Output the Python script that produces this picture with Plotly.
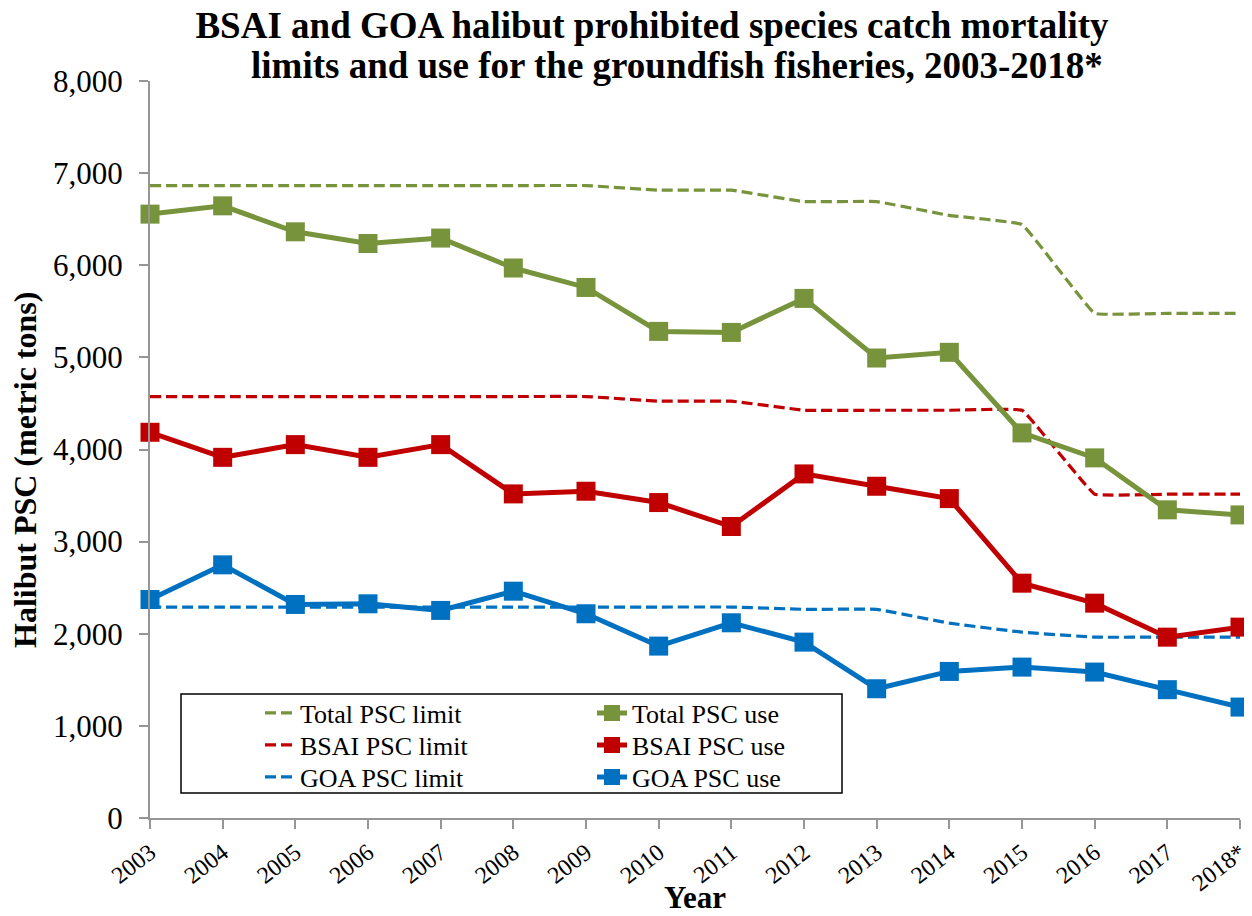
import plotly.graph_objects as go

years = ["2003", "2004", "2005", "2006", "2007", "2008", "2009", "2010",
         "2011", "2012", "2013", "2014", "2015", "2016", "2017", "2018*"]

total_limit = [6865, 6865, 6865, 6865, 6865, 6865, 6865, 6815, 6815, 6691, 6691, 6541, 6443, 5478, 5478, 5478]
bsai_limit = [4575, 4575, 4575, 4575, 4575, 4575, 4575, 4525, 4525, 4426, 4426, 4426, 4426, 3515, 3515, 3515]
goa_limit = [2290, 2290, 2290, 2290, 2290, 2290, 2290, 2290, 2290, 2265, 2265, 2115, 2017, 1963, 1963, 1963]

total_use = [6555, 6645, 6363, 6236, 6295, 5970, 5759, 5282, 5271, 5640, 4993, 5055, 4180, 3909, 3345, 3290]
bsai_use = [4187, 3915, 4053, 3915, 4053, 3518, 3547, 3424, 3164, 3735, 3601, 3467, 2549, 2332, 1963, 2072]
goa_use = [2372, 2748, 2318, 2325, 2253, 2462, 2217, 1866, 2119, 1909, 1403, 1591, 1638, 1584, 1393, 1204]

title_lines = ["BSAI and GOA halibut prohibited species catch mortality",
               "limits and use for the groundfish fisheries, 2003-2018*"]
x_title = "Year"
y_title = "Halibut PSC (metric tons)"

GREEN = "#77933C"
RED = "#C00000"
BLUE = "#0070C0"
FONT = "Liberation Serif"

# the page body adds an 8px offset; work in window pixels and convert
OFF = 8
W, H = 1244, 908
PL, PT, PR, PB = 150, 81, 1240, 818  # plot area in window pixels
L, T = PL - OFF, PT - OFF
R = W - (PR - OFF)
B = H - (PB - OFF)
pw, ph = PR - PL, PB - PT


def px_x(p):
    return (p - PL) / pw


def px_y(p):
    return (PB - p) / ph


fig = go.Figure()

rows = [
    ("Total PSC limit", total_limit, "Total PSC use", total_use, GREEN, "legend"),
    ("BSAI PSC limit", bsai_limit, "BSAI PSC use", bsai_use, RED, "legend2"),
    ("GOA PSC limit", goa_limit, "GOA PSC use", goa_use, BLUE, "legend3"),
]

for lim_name, lim_vals, _, _, col, leg in rows:
    fig.add_trace(go.Scatter(
        x=years, y=lim_vals, name=lim_name, mode="lines",
        line=dict(color=col, width=3.2, dash="11px,5px", shape="spline", smoothing=0.2),
        legend=leg, legendrank=1, cliponaxis=False,
    ))

for _, _, use_name, use_vals, col, leg in rows:
    fig.add_trace(go.Scatter(
        x=years, y=use_vals, name=use_name, mode="lines+markers",
        line=dict(color=col, width=5),
        marker=dict(symbol="square", size=19, color=col),
        legend=leg, legendrank=2, cliponaxis=False,
    ))

legend_common = dict(
    orientation="h", bgcolor="rgba(0,0,0,0)", borderwidth=0,
    font=dict(family=FONT, size=26, color="black"),
    xanchor="left", yanchor="middle", itemclick=False, itemdoubleclick=False,
    entrywidth=287, entrywidthmode="pixels", traceorder="normal",
)

fig.update_layout(
    width=W, height=H,
    margin=dict(l=L, r=R, t=T, b=B),
    paper_bgcolor="white", plot_bgcolor="white",
    font=dict(family=FONT, color="black"),
    title=dict(
        text="<b>" + title_lines[0] + "</b>",
        x=(652 - OFF) / W, xanchor="center", xref="container",
        y=1 - (25 - OFF) / H, yanchor="middle", yref="container",
        font=dict(family=FONT, size=37, color="black"),
    ),
    annotations=[
        dict(text="<b>" + title_lines[1] + "</b>",
             xref="paper", yref="paper", x=px_x(677), y=px_y(65),
             xanchor="center", yanchor="middle", showarrow=False,
             font=dict(family=FONT, size=37, color="black")),
        dict(text="<b>" + y_title + "</b>",
             xref="paper", yref="paper", x=px_x(25), y=px_y(470),
             xanchor="center", yanchor="middle", showarrow=False, textangle=-90,
             font=dict(family=FONT, size=32, color="black")),
        dict(text="<b>" + x_title + "</b>",
             xref="paper", yref="paper", x=px_x(695), y=px_y(897),
             xanchor="center", yanchor="middle", showarrow=False,
             font=dict(family=FONT, size=31, color="black")),
    ],
    legend=dict(x=px_x(260), y=px_y(713), **legend_common),
    legend2=dict(x=px_x(260), y=px_y(745), **legend_common),
    legend3=dict(x=px_x(260), y=px_y(777), **legend_common),
    xaxis=dict(
        type="category", range=[0, 15], automargin=False,
        showline=True, linecolor="#969696", linewidth=2,
        ticks="outside", ticklen=9, tickwidth=2, tickcolor="#969696",
        tickangle=-38, tickfont=dict(family=FONT, size=24, color="black"),
        showgrid=False, zeroline=False,
    ),
    yaxis=dict(
        range=[0, 8000], dtick=1000, tickformat=",d", automargin=False,
        showline=True, linecolor="#969696", linewidth=2,
        ticks="outside", ticklen=9, tickwidth=2, tickcolor="#969696",
        tickfont=dict(family=FONT, size=31, color="black"), ticklabelstandoff=10,
        showgrid=False, zeroline=False,
    ),
    shapes=[dict(
        type="rect", xref="paper", yref="paper",
        x0=px_x(181), x1=px_x(842), y0=px_y(793), y1=px_y(694),
        line=dict(color="black", width=1.5), fillcolor="white", layer="below",
    )],
)

fig.write_html("out.html")
